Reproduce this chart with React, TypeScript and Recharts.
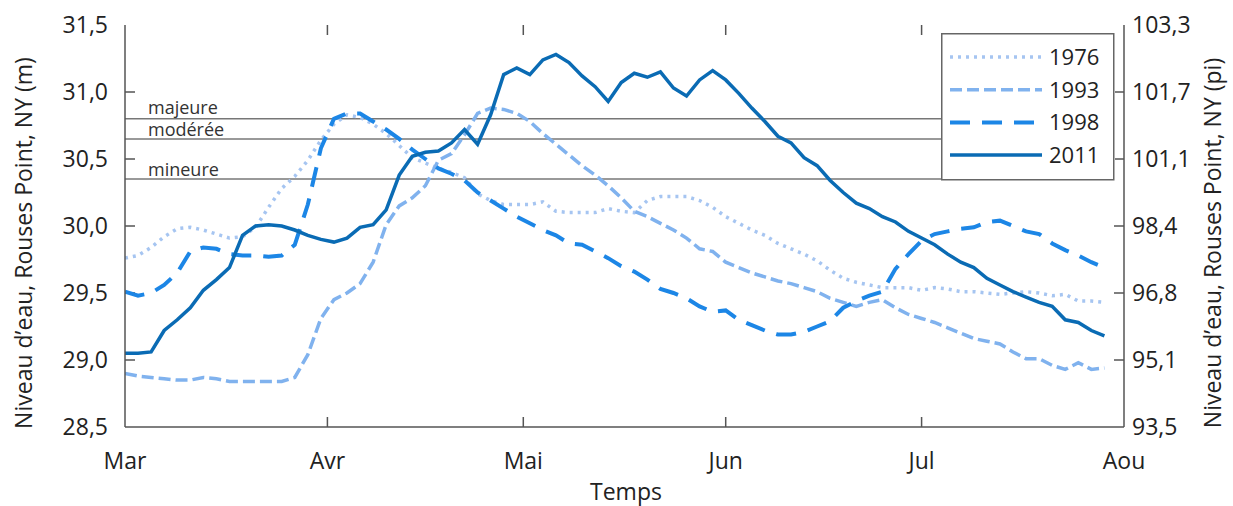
import { LineChart, Line, XAxis, YAxis, ReferenceLine, Legend, Label } from 'recharts';

// jours depuis le 1er mars (pas de 2 jours)
const days = [
  0, 2, 4, 6, 8, 10, 12, 14, 16, 18, 20, 22, 24, 26, 28, 30, 32, 34, 36, 38,
  40, 42, 44, 46, 48, 50, 52, 54, 56, 58, 60, 62, 64, 66, 68, 70, 72, 74, 76, 78,
  80, 82, 84, 86, 88, 90, 92, 94, 96, 98, 100, 102, 104, 106, 108, 110, 112, 114, 116, 118,
  120, 122, 124, 126, 128, 130, 132, 134, 136, 138, 140, 142, 144, 146, 148, 150,
];

const level1976 = [
  29.76, 29.78, 29.84, 29.92, 29.98, 29.99, 29.97, 29.94, 29.91, 29.92, 29.99, 30.14, 30.28, 30.37, 30.49, 30.64, 30.76, 30.83, 30.81, 30.76,
  30.69, 30.6, 30.51, 30.47, 30.43, 30.4, 30.36, 30.24, 30.19, 30.16, 30.16, 30.16, 30.18, 30.11, 30.1, 30.1, 30.1, 30.13, 30.11, 30.1,
  30.19, 30.22, 30.22, 30.22, 30.19, 30.14, 30.07, 30.02, 29.97, 29.93, 29.87, 29.83, 29.79, 29.74, 29.67, 29.61, 29.58, 29.56, 29.54, 29.54,
  29.54, 29.52, 29.54, 29.53, 29.51, 29.51, 29.5, 29.49, 29.5, 29.51, 29.5, 29.48, 29.49, 29.44, 29.44, 29.43,
];

const level1993 = [
  28.9, 28.88, 28.87, 28.86, 28.85, 28.85, 28.87, 28.86, 28.84, 28.84, 28.84, 28.84, 28.84, 28.87, 29.04, 29.31, 29.45, 29.5, 29.57, 29.73,
  30.01, 30.15, 30.21, 30.3, 30.49, 30.54, 30.68, 30.84, 30.88, 30.87, 30.84, 30.78, 30.69, 30.61, 30.53, 30.45, 30.38, 30.3, 30.21, 30.11,
  30.07, 30.02, 29.97, 29.91, 29.83, 29.81, 29.73, 29.69, 29.65, 29.62, 29.59, 29.57, 29.54, 29.51, 29.46, 29.43, 29.4, 29.43, 29.45, 29.39,
  29.34, 29.31, 29.28, 29.24, 29.2, 29.16, 29.14, 29.12, 29.06, 29.01, 29.01, 28.96, 28.93, 28.98, 28.93, 28.94,
];

const level1998 = [
  29.51, 29.48, 29.5, 29.56, 29.65, 29.81, 29.84, 29.83, 29.79, 29.78, 29.78, 29.77, 29.78, 29.86, 30.16, 30.58, 30.8, 30.84, 30.84, 30.78,
  30.72, 30.65, 30.57, 30.5, 30.43, 30.39, 30.34, 30.25, 30.19, 30.13, 30.07, 30.02, 29.97, 29.93, 29.87, 29.86, 29.81, 29.76, 29.7, 29.66,
  29.6, 29.53, 29.5, 29.46, 29.4, 29.36, 29.37, 29.3, 29.26, 29.22, 29.19, 29.19, 29.21, 29.25, 29.29, 29.39, 29.44, 29.48, 29.51, 29.68,
  29.79, 29.89, 29.94, 29.96, 29.98, 29.99, 30.03, 30.04, 30.0, 29.96, 29.94, 29.87, 29.82, 29.78, 29.73, 29.69,
];

const level2011 = [
  29.05, 29.05, 29.06, 29.22, 29.3, 29.39, 29.52, 29.6, 29.69, 29.93, 30.0, 30.01, 30.0, 29.97, 29.93, 29.9, 29.88, 29.91, 29.99, 30.01,
  30.12, 30.38, 30.52, 30.55, 30.56, 30.62, 30.72, 30.61, 30.83, 31.13, 31.18, 31.13, 31.24, 31.28, 31.22, 31.12, 31.04, 30.93, 31.07, 31.14,
  31.11, 31.15, 31.03, 30.97, 31.09, 31.16, 31.09, 30.99, 30.88, 30.78, 30.67, 30.62, 30.51, 30.45, 30.34, 30.25, 30.17, 30.13, 30.07, 30.03,
  29.96, 29.91, 29.86, 29.79, 29.73, 29.69, 29.61, 29.56, 29.51, 29.47, 29.43, 29.4, 29.3, 29.28, 29.22, 29.18,
];

const monthTicks = [0, 31, 61, 92, 122, 153];
const monthLabels = ['Mar', 'Avr', 'Mai', 'Jun', 'Jul', 'Aou'];
const meterTicks = [28.5, 29, 29.5, 30, 30.5, 31, 31.5];
const feetLabels = ['93,5', '95,1', '96,8', '98,4', '101,1', '101,7', '103,3'];
const floodLevels = [30.8, 30.65, 30.35];
const floodLabels = ['majeure', 'modérée', 'mineure'];

const series = [
  { key: 'y1976', name: '1976', color: '#a6c5f1', dash: '3 5', width: 3.5 },
  { key: 'y1993', name: '1993', color: '#80b2ee', dash: '12 5', width: 3.5 },
  { key: 'y1998', name: '1998', color: '#1c86e6', dash: '20 12', width: 4 },
  { key: 'y2011', name: '2011', color: '#0a6bb4', dash: undefined, width: 3.5 },
];

const data = days.map((day, i) => ({
  day,
  y1976: level1976[i],
  y1993: level1993[i],
  y1998: level1998[i],
  y2011: level2011[i],
}));

const FONT = "'Open Sans', 'Noto Sans', sans-serif";
const AXIS = '#555';
const TEXT = '#222';
const TICK_LEN = 10;
const LEGEND_LEFT = 941;

const fmtMeters = (v: number) => v.toFixed(1).replace('.', ',');
const fmtFeet = (v: number) => feetLabels[meterTicks.indexOf(v)] ?? '';
const fmtMonth = (v: number) => monthLabels[monthTicks.indexOf(v)] ?? '';

// inward tick stubs at both ends of a reference line spanning the plot
function VerticalStubs(p: any) {
  const x = Number(p.x1);
  const top = Math.min(Number(p.y1), Number(p.y2));
  const bottom = Math.max(Number(p.y1), Number(p.y2));
  return (
    <g>
      <line x1={x} x2={x} y1={top} y2={top + TICK_LEN} stroke={AXIS} strokeWidth={1.5} />
      <line x1={x} x2={x} y1={bottom} y2={bottom - TICK_LEN} stroke={AXIS} strokeWidth={1.5} />
    </g>
  );
}

function HorizontalStubs(p: any) {
  const y = Number(p.y1);
  const left = Math.min(Number(p.x1), Number(p.x2));
  const right = Math.max(Number(p.x1), Number(p.x2));
  return (
    <g>
      <line x1={left} x2={left + TICK_LEN} y1={y} y2={y} stroke={AXIS} strokeWidth={1.5} />
      <line x1={right} x2={right - TICK_LEN} y1={y} y2={y} stroke={AXIS} strokeWidth={1.5} />
    </g>
  );
}

// flood level lines stop at the legend box
function FloodLine(p: any) {
  const y = Number(p.y1);
  const left = Math.min(Number(p.x1), Number(p.x2));
  return <line x1={left} x2={LEGEND_LEFT} y1={y} y2={y} stroke="#777" strokeWidth={1.5} />;
}

function LegendBox() {
  return (
    <div style={{ width: 174, height: 148, background: '#fff' }}>
      <svg width={174} height={148} style={{ display: 'block' }}>
        <rect x={0.75} y={0.75} width={172} height={146} fill="#fff" stroke="#666" strokeWidth={1.5} />
        {series.map((s, i) => (
          <g key={s.key}>
            <line x1={9} x2={101} y1={24 + i * 32.7} y2={24 + i * 32.7}
              stroke={s.color} strokeWidth={s.width} strokeDasharray={s.dash} />
            <text x={108} y={24 + i * 32.7} dy="0.36em" fontSize={22} fill={TEXT} fontFamily={FONT}>{s.name}</text>
          </g>
        ))}
      </svg>
    </div>
  );
}

export default function App() {
  return (
    <div style={{ position: 'absolute', left: 0, top: 0 }}>
      <LineChart width={1233} height={506} data={data}
        margin={{ top: 25, right: 0, bottom: 0, left: 0 }}
        style={{ fontFamily: FONT }}>
        <XAxis dataKey="day" type="number" domain={[0, 153]} ticks={monthTicks} interval={0}
          allowDataOverflow height={79} tickLine={false} tickMargin={20} tickFormatter={fmtMonth}
          stroke={AXIS} strokeWidth={1.5} tick={{ fill: TEXT, fontSize: 23 }}>
          <Label content={() => (
            <text x={626} y={500} textAnchor="middle" fontSize={23} fill={TEXT} fontFamily={FONT}>Temps</text>
          )} />
        </XAxis>
        <XAxis xAxisId="top" orientation="top" dataKey="day" type="number" domain={[0, 153]}
          ticks={monthTicks} interval={0} allowDataOverflow height={0} tickLine={false}
          tick={false} stroke={AXIS} strokeWidth={1.5} />
        <YAxis yAxisId="left" type="number" domain={[28.5, 31.5]} ticks={meterTicks} interval={0}
          allowDataOverflow width={125} tickLine={false} tickMargin={11} tickFormatter={fmtMeters}
          stroke={AXIS} strokeWidth={1.5} tick={{ fill: TEXT, fontSize: 23 }}>
          <Label content={() => (
            <text x={32} y={243} transform="rotate(-90 32 243)" textAnchor="middle" fontSize={23}
              fill={TEXT} fontFamily={FONT}>Niveau d’eau, Rouses Point, NY (m)</text>
          )} />
        </YAxis>
        <YAxis yAxisId="right" orientation="right" type="number" domain={[28.5, 31.5]} ticks={meterTicks}
          interval={0} allowDataOverflow width={109} tickLine={false} tickMargin={2} tickFormatter={fmtFeet}
          stroke={AXIS} strokeWidth={1.5} tick={{ fill: TEXT, fontSize: 23 }}>
          <Label content={() => (
            <text x={1221} y={243} transform="rotate(-90 1221 243)" textAnchor="middle" fontSize={23}
              fill={TEXT} fontFamily={FONT}>Niveau d’eau, Rouses Point, NY (pi)</text>
          )} />
        </YAxis>
        {monthTicks.slice(1, -1).map((d) => (
          <ReferenceLine key={`m${d}`} yAxisId="left" x={d} shape={<VerticalStubs />} />
        ))}
        {meterTicks.slice(1, -1).map((v) => (
          <ReferenceLine key={`t${v}`} yAxisId="left" y={v} shape={<HorizontalStubs />} />
        ))}
        {floodLevels.map((lvl, i) => (
          <ReferenceLine key={lvl} yAxisId="left" y={lvl} shape={<FloodLine />}
            label={(p: any) => (
              <text x={p.viewBox.x + 23} y={p.viewBox.y - (i === 0 ? 5 : 3)} fontSize={18} fill="#333" fontFamily={FONT}>
                {floodLabels[i]}
              </text>
            )} />
        ))}
        {series.map((s) => (
          <Line key={s.key} yAxisId="left" type="linear" dataKey={s.key} name={s.name}
            stroke={s.color} strokeWidth={s.width} strokeDasharray={s.dash}
            dot={false} activeDot={false} isAnimationActive={false} />
        ))}
        <Legend layout="vertical" align="center" verticalAlign="middle"
          wrapperStyle={{ left: LEGEND_LEFT, top: 33, width: 174, height: 148 }}
          content={() => <LegendBox />} />
      </LineChart>
    </div>
  );
}
